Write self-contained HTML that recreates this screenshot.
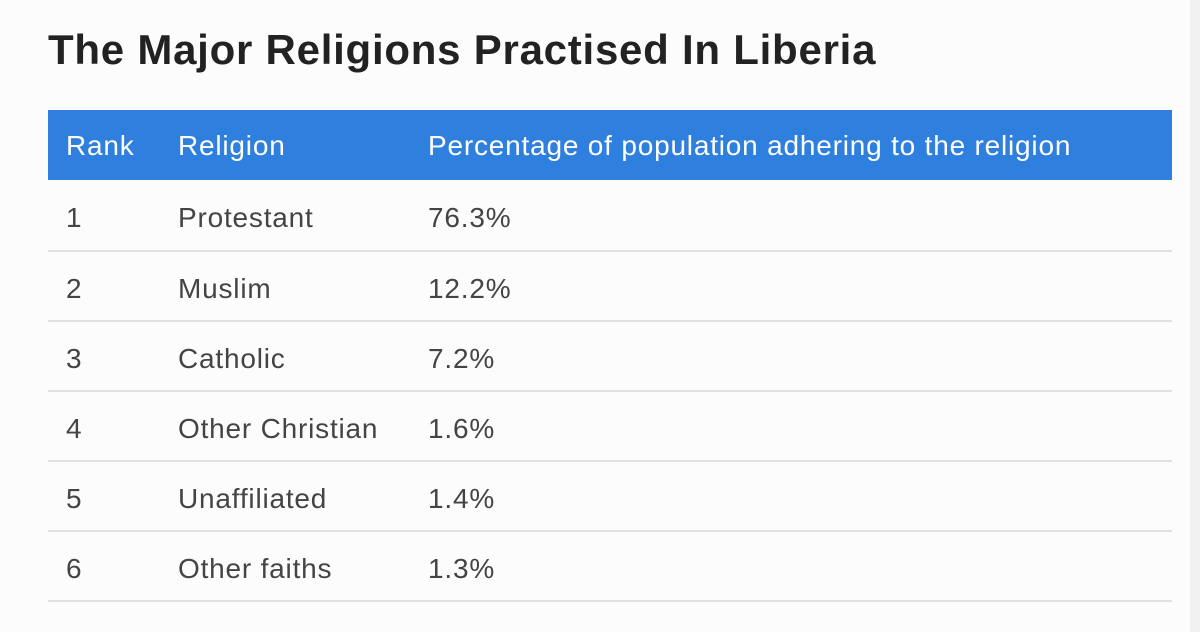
<!DOCTYPE html>
<html><head><style>
html,body{margin:0;padding:0;}
body{width:1200px;height:632px;background:#fcfcfc;position:relative;overflow:hidden;font-family:"Liberation Sans","DejaVu Sans",sans-serif;}
.strip{position:absolute;left:1190px;top:0;width:10px;height:632px;background:#f0f0f0;}
h1{position:absolute;left:48px;top:26px;margin:0;font-size:42px;font-weight:bold;color:#222;letter-spacing:0.75px;}
.hdr{position:absolute;left:48px;top:110px;width:1124px;height:70px;background:#2e7fde;}
.t{position:absolute;font-size:28px;line-height:30px;color:#444;white-space:nowrap;letter-spacing:0.8px;}
.h{color:#fff;}
.line{position:absolute;left:48px;width:1124px;height:2px;background:#e2e2e2;}
</style></head><body>
<div class="strip"></div>
<h1>The Major Religions Practised In Liberia</h1>
<div class="hdr"></div>
<div class="t h" style="left:66px;top:131px">Rank</div>
<div class="t h" style="left:178px;top:131px">Religion</div>
<div class="t h" style="left:428px;top:131px">Percentage of population adhering to the religion</div>

<div class="t" style="left:66px;top:203px">1</div><div class="t" style="left:178px;top:203px">Protestant</div><div class="t" style="left:428px;top:203px">76.3%</div>
<div class="line" style="top:250px"></div>
<div class="t" style="left:66px;top:274px">2</div><div class="t" style="left:178px;top:274px">Muslim</div><div class="t" style="left:428px;top:274px">12.2%</div>
<div class="line" style="top:320px"></div>
<div class="t" style="left:66px;top:344px">3</div><div class="t" style="left:178px;top:344px">Catholic</div><div class="t" style="left:428px;top:344px">7.2%</div>
<div class="line" style="top:390px"></div>
<div class="t" style="left:66px;top:414px">4</div><div class="t" style="left:178px;top:414px">Other Christian</div><div class="t" style="left:428px;top:414px">1.6%</div>
<div class="line" style="top:460px"></div>
<div class="t" style="left:66px;top:484px">5</div><div class="t" style="left:178px;top:484px">Unaffiliated</div><div class="t" style="left:428px;top:484px">1.4%</div>
<div class="line" style="top:530px"></div>
<div class="t" style="left:66px;top:554px">6</div><div class="t" style="left:178px;top:554px">Other faiths</div><div class="t" style="left:428px;top:554px">1.3%</div>
<div class="line" style="top:600px"></div>
</body></html>
